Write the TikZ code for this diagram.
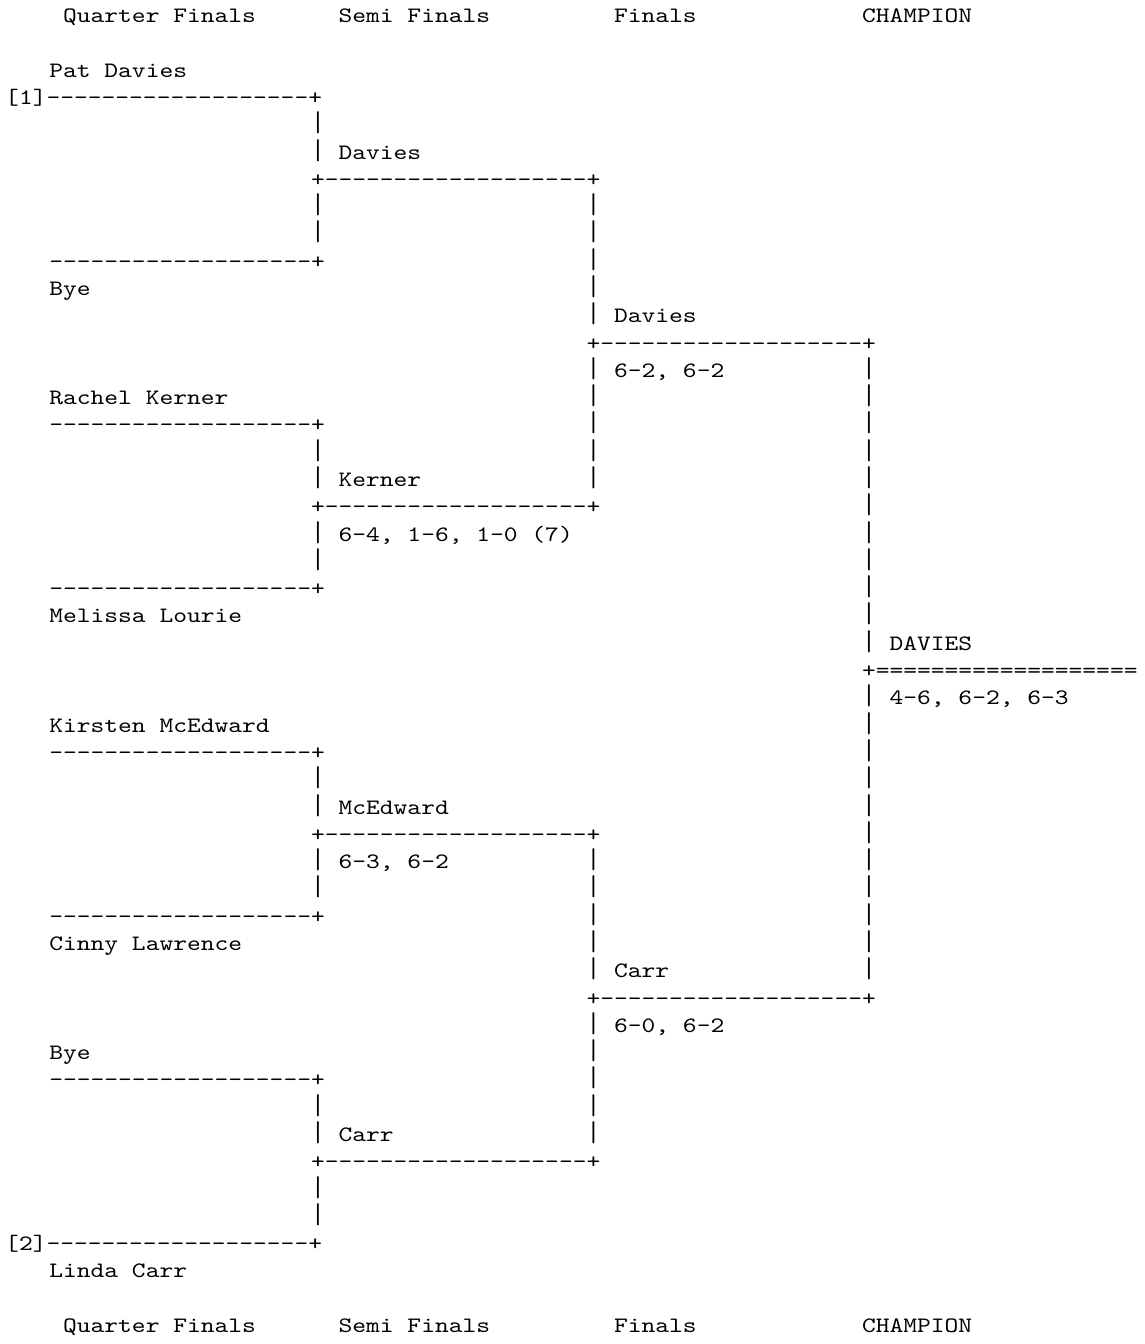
\documentclass[tikz,border=0pt]{standalone}
\usepackage{fontspec}
\setmonofont{Latin Modern Mono}

% one character cell of the grid
\newlength{\chw}
\AtBeginDocument{%
  \settowidth{\chw}{\ttfamily\fontsize{11}{13}\selectfont 0}%
  \pgfmathsetmacro{\chscale}{6.8875/(\chw/1pt)}}
% tall bar as the typewriter prints it
\newcommand{\pipebar}{\scalebox{1}[1.3]{|}}

\begin{document}
\begin{tikzpicture}[
    x=6.8875pt, y=-13.645pt,
    cell/.style={anchor=base west, inner sep=0pt, outer sep=0pt, font=\ttfamily\fontsize{11}{13}\selectfont, xscale=\chscale},
    header/.style={cell},
    player/.style={cell},
    result/.style={cell},
    bracket/.style={cell}
]
\fill[white] (-0.5808, -0.8282) rectangle (82.468, 48.420);

% Headers
\node[header] (qf-top) at (4, 0) {Quarter Finals};
\node[header] (sf-top) at (24, 0) {Semi Finals};
\node[header] (f-top) at (44, 0) {Finals};
\node[header] (ch-top) at (62, 0) {CHAMPION};
\node[header] (qf-bot) at (4, 48) {Quarter Finals};
\node[header] (sf-bot) at (24, 48) {Semi Finals};
\node[header] (f-bot) at (44, 48) {Finals};
\node[header] (ch-bot) at (62, 48) {CHAMPION};

% Quarter finals
\node[player] (davies) at (3, 2) {Pat Davies};
\node[bracket] (qf1) at (-0.2, 3) {[1]-------------------+};
\node[bracket] (qf2) at (3, 9) {-------------------+};
\node[player] (bye1) at (3, 10) {Bye};
\node[player] (kerner) at (3, 14) {Rachel Kerner};
\node[bracket] (qf3) at (3, 15) {-------------------+};
\node[bracket] (qf4) at (3, 21) {-------------------+};
\node[player] (lourie) at (3, 22) {Melissa Lourie};
\node[player] (mcedward) at (3, 26) {Kirsten McEdward};
\node[bracket] (qf5) at (3, 27) {-------------------+};
\node[bracket] (qf6) at (3, 33) {-------------------+};
\node[player] (lawrence) at (3, 34) {Cinny Lawrence};
\node[player] (bye2) at (3, 38) {Bye};
\node[bracket] (qf7) at (3, 39) {-------------------+};
\node[bracket] (qf8) at (-0.2, 45) {[2]-------------------+};
\node[player] (carr) at (3, 46) {Linda Carr};

% Semi finals
\node[result] (sf1-win) at (22, 5) {\pipebar{} Davies};
\node[bracket] (sf1) at (22, 6) {+-------------------+};
\node[result] (sf2-win) at (22, 17) {\pipebar{} Kerner};
\node[bracket] (sf2) at (22, 18) {+-------------------+};
\node[result] (sf2-score) at (22, 19) {\pipebar{} 6-4, 1-6, 1-0 (7)};
\node[result] (sf3-win) at (22, 29) {\pipebar{} McEdward};
\node[bracket] (sf3) at (22, 30) {+-------------------+};
\node[result] (sf3-score) at (22, 31) {\pipebar{} 6-3, 6-2};
\node[result] (sf4-win) at (22, 41) {\pipebar{} Carr};
\node[bracket] (sf4) at (22, 42) {+-------------------+};

% Finals
\node[result] (f1-win) at (42, 11) {\pipebar{} Davies};
\node[bracket] (f1) at (42, 12) {+-------------------+};
\node[result] (f1-score) at (42, 13) {\pipebar{} 6-2, 6-2};
\node[result] (f2-win) at (42, 35) {\pipebar{} Carr};
\node[bracket] (f2) at (42, 36) {+-------------------+};
\node[result] (f2-score) at (42, 37) {\pipebar{} 6-0, 6-2};

% Champion
\node[result] (ch-win) at (62, 23) {\pipebar{} DAVIES};
\node[bracket] (ch) at (62, 24) {+===================};
\node[result] (ch-score) at (62, 25) {\pipebar{} 4-6, 6-2, 6-3};

% Vertical bars
\foreach \r in {4,7,8,16,20,28,32,40,43,44}
    \node[bracket] (bar22-\r) at (22, \r) {\pipebar};
\foreach \r in {7,8,9,10,14,15,16,17,31,32,33,34,38,39,40,41}
    \node[bracket] (bar42-\r) at (42, \r) {\pipebar};
\foreach \r in {13,...,22,26,27,...,35}
    \node[bracket] (bar62-\r) at (62, \r) {\pipebar};
\end{tikzpicture}
\end{document}
